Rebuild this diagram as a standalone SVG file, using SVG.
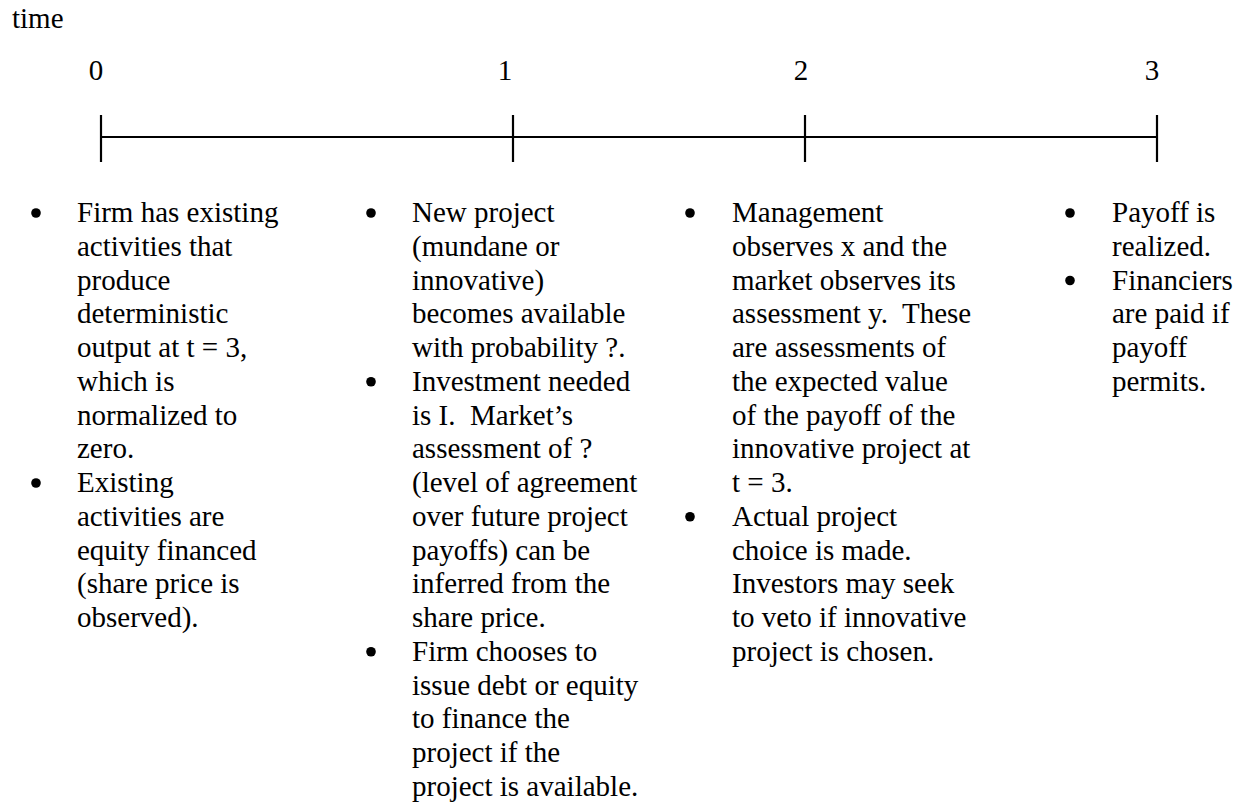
<svg xmlns="http://www.w3.org/2000/svg" xmlns:xlink="http://www.w3.org/1999/xlink" width="1240" height="807" viewBox="0 0 1240 807">
<style>
text{font-family:"Liberation Serif","Times New Roman",serif;font-size:29px;fill:#000;white-space:pre}
.num{text-anchor:middle}
.ax{stroke:#000;stroke-width:2.2;fill:none}
</style>
<defs>
  <circle id="bullet" r="4.8" cx="0" cy="-9" fill="#000"/>
</defs>
<rect width="1240" height="807" fill="#fff"/>
<text id="time-label" x="12" y="28">time</text>
<g id="timeline">
  <line class="ax" x1="101" y1="137" x2="1157" y2="137"/>
  <line class="ax" x1="101" y1="115" x2="101" y2="162"/>
  <line class="ax" x1="513" y1="115" x2="513" y2="162"/>
  <line class="ax" x1="805" y1="115" x2="805" y2="162"/>
  <line class="ax" x1="1157" y1="115" x2="1157" y2="162"/>
  <text class="num" x="96" y="80">0</text>
  <text class="num" x="505" y="80">1</text>
  <text class="num" x="801" y="80">2</text>
  <text class="num" x="1152" y="80">3</text>
</g>
<g id="t0">
  <use xlink:href="#bullet" href="#bullet" x="36" y="222"/>
  <text x="77" y="222">Firm has existing</text>
  <text x="77" y="255.75">activities that</text>
  <text x="77" y="289.5">produce</text>
  <text x="77" y="323.25">deterministic</text>
  <text x="77" y="357">output at t = 3,</text>
  <text x="77" y="390.75">which is</text>
  <text x="77" y="424.5">normalized to</text>
  <text x="77" y="458.25">zero.</text>
  <use xlink:href="#bullet" href="#bullet" x="36" y="492"/>
  <text x="77" y="492">Existing</text>
  <text x="77" y="525.75">activities are</text>
  <text x="77" y="559.5">equity financed</text>
  <text x="77" y="593.25">(share price is</text>
  <text x="77" y="627">observed).</text>
</g>
<g id="t1">
  <use xlink:href="#bullet" href="#bullet" x="371" y="222"/>
  <text x="412" y="222">New project</text>
  <text x="412" y="255.75">(mundane or</text>
  <text x="412" y="289.5">innovative)</text>
  <text x="412" y="323.25">becomes available</text>
  <text x="412" y="357">with probability ?.</text>
  <use xlink:href="#bullet" href="#bullet" x="371" y="390.75"/>
  <text x="412" y="390.75">Investment needed</text>
  <text x="412" y="424.5">is I.  Market’s</text>
  <text x="412" y="458.25">assessment of ?</text>
  <text x="412" y="492">(level of agreement</text>
  <text x="412" y="525.75">over future project</text>
  <text x="412" y="559.5">payoffs) can be</text>
  <text x="412" y="593.25">inferred from the</text>
  <text x="412" y="627">share price.</text>
  <use xlink:href="#bullet" href="#bullet" x="371" y="660.75"/>
  <text x="412" y="660.75">Firm chooses to</text>
  <text x="412" y="694.5">issue debt or equity</text>
  <text x="412" y="728.25">to finance the</text>
  <text x="412" y="762">project if the</text>
  <text x="412" y="795.75">project is available.</text>
</g>
<g id="t2">
  <use xlink:href="#bullet" href="#bullet" x="690" y="222"/>
  <text x="732" y="222">Management</text>
  <text x="732" y="255.75">observes x and the</text>
  <text x="732" y="289.5">market observes its</text>
  <text x="732" y="323.25">assessment y.  These</text>
  <text x="732" y="357">are assessments of</text>
  <text x="732" y="390.75">the expected value</text>
  <text x="732" y="424.5">of the payoff of the</text>
  <text x="732" y="458.25">innovative project at</text>
  <text x="732" y="492">t = 3.</text>
  <use xlink:href="#bullet" href="#bullet" x="690" y="525.75"/>
  <text x="732" y="525.75">Actual project</text>
  <text x="732" y="559.5">choice is made.</text>
  <text x="732" y="593.25">Investors may seek</text>
  <text x="732" y="627">to veto if innovative</text>
  <text x="732" y="660.75">project is chosen.</text>
</g>
<g id="t3">
  <use xlink:href="#bullet" href="#bullet" x="1070" y="222"/>
  <text x="1112" y="222">Payoff is</text>
  <text x="1112" y="255.75">realized.</text>
  <use xlink:href="#bullet" href="#bullet" x="1070" y="289.5"/>
  <text x="1112" y="289.5">Financiers</text>
  <text x="1112" y="323.25">are paid if</text>
  <text x="1112" y="357">payoff</text>
  <text x="1112" y="390.75">permits.</text>
</g>
<g id="connectors"></g>
</svg>
